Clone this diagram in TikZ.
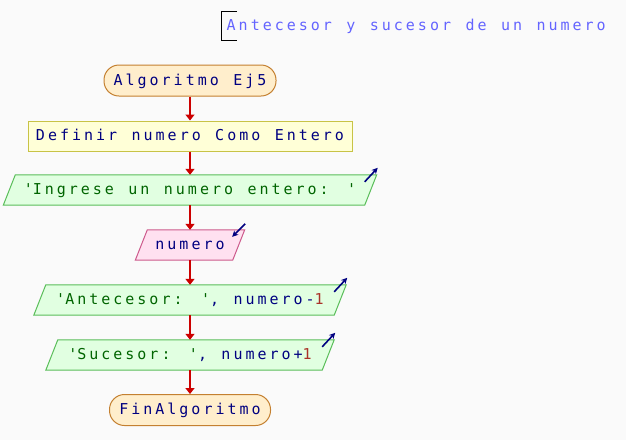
\documentclass[tikz,border=0pt]{standalone}
\usepackage{fontspec}
\usetikzlibrary{arrows.meta,backgrounds}
\newfontfamily\psfont{DejaVu Sans Mono}[LetterSpace=20,WordSpace=1.2]
\definecolor{bgc}{RGB}{250,250,250}
\definecolor{termF}{RGB}{255,238,204}
\definecolor{termB}{RGB}{196,128,48}
\definecolor{defF}{RGB}{255,255,215}
\definecolor{defB}{RGB}{200,195,70}
\definecolor{outF}{RGB}{225,255,225}
\definecolor{outB}{RGB}{90,190,90}
\definecolor{inF}{RGB}{255,225,240}
\definecolor{inB}{RGB}{205,90,140}
\definecolor{kw}{RGB}{0,0,128}
\definecolor{strc}{RGB}{0,100,0}
\definecolor{numc}{RGB}{170,50,40}
\definecolor{ttl}{RGB}{100,100,255}
\definecolor{flowR}{RGB}{204,0,0}
\begin{document}
\begin{tikzpicture}[x=1pt,y=-1pt,
  every node/.style={font=\psfont\fontsize{15pt}{17pt}\selectfont, text=kw, inner sep=0pt, text height=11pt, text depth=2pt},
  term/.style={draw=termB, fill=termF, line width=1pt, rounded corners=15pt, minimum height=31pt},
  defbox/.style={draw=defB, fill=defF, line width=1pt, minimum height=30pt},
  io/.style={minimum height=30pt},
  flow/.style={draw=flowR, line width=2pt, -{Triangle[width=9pt,length=6pt]}},
  icon/.style={draw=kw, line width=1.6pt, -{Stealth[length=6pt,width=6pt]}}]
\useasboundingbox (0,0) rectangle (626,440);

\node[anchor=base west, text=ttl] (title) at (226.5,30) {Antecesor y sucesor de un numero};
\draw[line width=1pt, black] (237,11) -- (221,11) -- (221,40) -- (237,40);

\node[term, minimum width=172pt] (start) at (190,80.5) {Algoritmo Ej5};
\node[defbox, minimum width=324pt] (def) at (190,136) {Definir numero Como Entero};
\node[io, minimum width=361pt, text=strc] (o1) at (190,190) {\textquotesingle Ingrese un numero entero: \textquotesingle};
\node[io, minimum width=97pt] (in) at (190,245) {numero};
\node[io, minimum width=300pt] (o2) at (190,300) {{\color{strc}\textquotesingle Antecesor: \textquotesingle}, numero-{\color{numc}1}};
\node[io, minimum width=276pt] (o3) at (190,355) {{\color{strc}\textquotesingle Sucesor: \textquotesingle}, numero+{\color{numc}1}};
\node[term, minimum width=161pt] (end) at (190,410) {FinAlgoritmo};

\begin{scope}[on background layer]
  \fill[bgc] (0,0) rectangle (626,440);
  \foreach \n/\b/\f in {o1/outB/outF, in/inB/inF, o2/outB/outF, o3/outB/outF}
    \filldraw[draw=\b, fill=\f, line width=1pt]
      ([xshift=6pt]\n.north west) -- ([xshift=6pt]\n.north east) --
      ([xshift=-6pt]\n.south east) -- ([xshift=-6pt]\n.south west) -- cycle;
\end{scope}

\draw[flow] (start.south) -- (def.north);
\draw[flow] (def.south) -- (o1.north);
\draw[flow] (o1.south) -- (in.north);
\draw[flow] (in.south) -- (o2.north);
\draw[flow] (o2.south) -- (o3.north);
\draw[flow] (o3.south) -- (end.north);

\draw[icon] ([shift={(-6,7)}]o1.north east) -- ([shift={(7,-7)}]o1.north east);
\draw[icon] ([shift={(-6,7)}]o2.north east) -- ([shift={(7,-7)}]o2.north east);
\draw[icon] ([shift={(-6,7)}]o3.north east) -- ([shift={(7,-7)}]o3.north east);
\draw[icon] ([shift={(6.5,-6)}]in.north east) -- ([shift={(-6.5,7)}]in.north east);
\end{tikzpicture}
\end{document}
